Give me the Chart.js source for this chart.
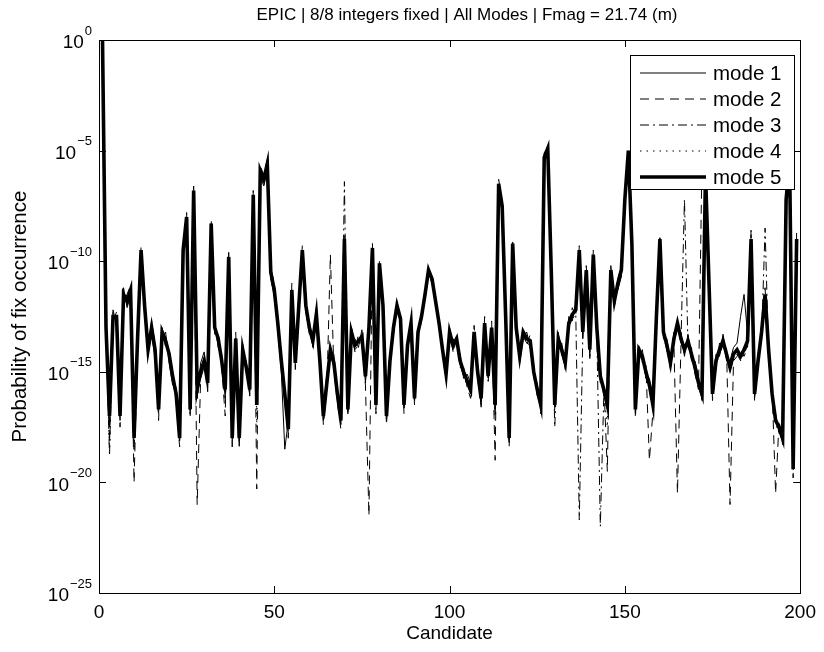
<!DOCTYPE html>
<html>
<head>
<meta charset="utf-8">
<title>EPIC fix occurrence</title>
<script src="https://cdn.jsdelivr.net/npm/chart.js@4.4.1/dist/chart.umd.min.js"></script>
<style>
    html, body { margin: 0; padding: 0; background: #fff; }
    #wrap { width: 824px; height: 652px; }
</style>
</head>
<body>
<div id="wrap"><canvas id="chart" width="824" height="652"></canvas></div>
<script>
(function() {
    'use strict';

    // log10 of the probability of fix occurrence, one value per candidate (1..199)
    var mode1Exp = [
        0, -13.4, -17.5, -12.2, -12.9, -16.6, -11.2, -12.1, -11.6, -17.4,
        -13.1, -9.8, -12.4, -13.6, -13.3, -14.4, -16.2, -13.5, -13.2, -14.6,
        -15.6, -15.7, -17.5, -9.8, -8.3, -16.3, -7.1, -16.2, -14.6, -14.1,
        -15.9, -8.6, -12.7, -13.9, -14.2, -16.2, -10.1, -17.5, -13.8, -17.6,
        -14.3, -14.5, -16.1, -7.3, -16.1, -6.2, -6.6, -5.9, -10.8, -11.6,
        -13.1, -15, -18.5, -17.2, -11.6, -14.2, -12.3, -9.8, -12.3, -12.7,
        -13.9, -12.1, -14.8, -16.6, -15.1, -14.3, -14.2, -16.3, -16.8, -9.3,
        -16.3, -13.5, -13.5, -13.9, -13.1, -15.5, -13.3, -9.7, -16.1, -10.4,
        -12.3, -16.6, -14.2, -13.3, -11.8, -12.9, -16.1, -14.1, -12.6, -15.8,
        -13.5, -12.3, -11.6, -10.5, -10.9, -11.9, -12.6, -14.2, -15.3, -13.5,
        -13.5, -13.8, -14.2, -15.3, -15.1, -15.5, -13.5, -14.7, -16.6, -13.1,
        -14.9, -13.3, -16.9, -6.8, -7.8, -12.2, -17.6, -9.5, -12.7, -14.6,
        -13.5, -13.2, -13.9, -14.7, -16.1, -16.2, -5.5, -5.2, -10.7, -16.1,
        -13.8, -13.7, -14.9, -12.5, -12.7, -11.9, -9.8, -13.5, -10.7, -14.3,
        -10, -13.3, -14.9, -16.1, -16.2, -10.7, -11.5, -11.3, -10.7, -7.5,
        -5.3, -9.5, -16.3, -14.3, -14, -15.3, -15.3, -16.1, -12.8, -9.3,
        -13.5, -13.5, -14.9, -13.2, -13.1, -13.2, -14.3, -13.3, -14.5, -14.5,
        -15.2, -16.3, -6.3, -11.3, -15.7, -14.2, -14.3, -13.3, -14.5, -14.5,
        -13.9, -13.7, -12.5, -11.5, -13.3, -9.3, -15.7, -14.2, -13.5, -11.8,
        -13.7, -16.3, -16.9, -17.8, -17.7, -7.5, -5.8, -19, -9.3
    ];
    var mode2Exp = [
        0, -12.8, -18.2, -12.7, -12.3, -17.5, -11.8, -11.5, -11.1, -20,
        -13.8, -9.3, -12.2, -14.3, -12.7, -13.8, -17.2, -13, -13.9, -14,
        -15, -16.4, -18.4, -9.3, -7.8, -17.1, -6.6, -21, -15.3, -14.8,
        -15.2, -8.1, -13.3, -13.2, -14.8, -17, -9.6, -18.4, -13.2, -18.5,
        -13.7, -15.1, -15.5, -6.8, -20.3, -5.7, -6.1, -5.4, -10.3, -11,
        -12.5, -14.8, -16.4, -18, -11, -14.9, -11.8, -9.3, -12.3, -13.3,
        -13.3, -12.7, -14.2, -17.4, -15.8, -9.7, -14.9, -16.4, -17.6, -8.8,
        -17, -12.9, -14.1, -13.3, -13.7, -15.6, -21.5, -9.2, -16.9, -9.9,
        -11.8, -17.4, -14.8, -12.7, -12.2, -12.3, -16.9, -13.5, -13, -16.5,
        -13, -12.6, -11.4, -10.3, -10.7, -11.7, -13, -13.8, -15.4, -13,
        -14.1, -13.3, -14.8, -14.8, -15.7, -16.2, -12.9, -15.3, -16.5, -12.5,
        -15.5, -12.7, -19, -6.3, -7.3, -12.8, -18.4, -9, -13.3, -14,
        -13, -13.8, -13.3, -15.3, -15.5, -16.9, -5.1, -4.8, -10.2, -16.8,
        -13.2, -14.3, -14.3, -13.1, -12.1, -12.5, -9.3, -13, -10.2, -14.4,
        -9.5, -13.3, -15.5, -15.5, -19.5, -10.2, -12.1, -10.8, -10.2, -7,
        -4.9, -9, -17.1, -13.7, -14.6, -14.7, -19, -16.8, -12.2, -8.8,
        -12.9, -14.1, -14.3, -13.8, -20.5, -13.8, -13.7, -13.9, -13.9, -15.1,
        -15.8, -5.5, -5.8, -10.8, -16.3, -14.8, -13.7, -13.9, -13.9, -21,
        -14.5, -14.3, -14, -14.3, -13.9, -8.8, -16.3, -14.8, -12.9, -11.2,
        -14.3, -15.7, -20.5, -17.2, -18.3, -7, -5.2, -19.8, -8.7
    ];
    var mode3Exp = [
        0, -13.2, -18.8, -12.3, -12.7, -17.2, -11.7, -12, -11.5, -18.6,
        -13.3, -9.7, -11.8, -14.2, -13.2, -14.2, -16.9, -13.4, -13.4, -14.4,
        -15.4, -16.2, -18.2, -9.7, -8.2, -16.9, -7, -16, -15.2, -14.7,
        -15.7, -8.5, -13.2, -13.7, -14.7, -16, -10, -18.2, -13.7, -18.2,
        -14.2, -15, -16, -7.2, -16.7, -6.1, -6.5, -5.8, -10.7, -11.5,
        -13, -14.7, -16.2, -17.8, -11.5, -14.8, -12.2, -9.7, -12.2, -13.2,
        -13.8, -12.6, -14.7, -17.2, -15.7, -14.2, -14.8, -16.2, -17.4, -6.4,
        -16.9, -13.4, -14, -13.8, -13.6, -15.4, -13.2, -9.6, -16.7, -10.3,
        -12.2, -17.2, -14.7, -13.2, -12.2, -12.8, -16.7, -14, -13, -16.4,
        -13.4, -12.7, -11.7, -10.6, -11, -12, -13, -14.2, -15.3, -13.4,
        -14, -13.7, -14.7, -15.2, -15.6, -16, -13.4, -15.2, -16.4, -13,
        -15.4, -13.2, -16.7, -6.7, -7.7, -12.7, -18.2, -9.4, -13.2, -14.5,
        -13.4, -13.7, -13.8, -15.2, -16, -16.7, -5.4, -5.1, -10.6, -17.5,
        -13.7, -14.2, -14.8, -13, -12.6, -12.4, -21.7, -13.4, -10.6, -14.2,
        -9.9, -13.2, -22, -16, -16.7, -10.6, -12, -11.2, -10.6, -7.4,
        -5.2, -9.4, -16.9, -14.2, -14.5, -15.2, -15.8, -16.7, -12.7, -9.2,
        -13.4, -14, -14.8, -13.7, -13, -13.7, -7.2, -13.8, -14.4, -15,
        -15.7, -16.2, -6.2, -11.2, -16.2, -14.7, -14.2, -13.8, -14.4, -15,
        -14.4, -14.2, -14.5, -14.2, -13.8, -8.6, -16.2, -14.7, -13.4, -8.5,
        -14.2, -16.2, -17.4, -17.7, -18.2, -7.4, -5, -18.8, -9.2
    ];
    var mode4Exp = [
        0, -13.1, -18.6, -12.4, -12.6, -17.1, -11.6, -11.9, -11.4, -18.4,
        -13.4, -9.6, -11.9, -14.1, -13.1, -14.1, -16.8, -13.3, -13.5, -14.3,
        -15.3, -16.1, -18.1, -9.6, -8.1, -16.8, -6.9, -16.2, -15.1, -14.6,
        -15.6, -8.4, -13.1, -13.6, -14.6, -16.3, -9.9, -18.1, -13.6, -18.1,
        -14.1, -14.9, -15.9, -7.1, -17.5, -6, -6.4, -5.7, -10.6, -11.4,
        -12.9, -14.6, -16.1, -17.7, -11.4, -14.7, -12.1, -9.6, -12.1, -13.1,
        -13.7, -12.5, -14.6, -17.1, -15.6, -14.1, -14.7, -16.1, -17.3, -9.1,
        -16.8, -13.3, -13.9, -13.7, -13.5, -15.3, -13.1, -9.5, -16.6, -10.2,
        -12.1, -17.1, -14.6, -13.1, -12.1, -12.7, -16.6, -13.9, -12.9, -16.3,
        -13.3, -12.6, -11.6, -10.5, -10.9, -11.9, -12.9, -14.1, -15.2, -13.3,
        -13.9, -13.6, -14.6, -15.1, -15.5, -15.9, -13.3, -15.1, -16.3, -12.9,
        -15.3, -13.1, -17.2, -6.6, -7.6, -12.6, -18.1, -9.3, -13.1, -14.4,
        -13.3, -13.6, -13.7, -15.1, -15.9, -16.6, -5.3, -5, -10.5, -16.6,
        -13.6, -14.1, -14.7, -12.9, -12.5, -12.3, -9.6, -13.3, -10.5, -14.1,
        -9.8, -13.1, -15.3, -15.9, -17.5, -10.5, -11.9, -11.1, -10.5, -7.3,
        -5.1, -9.3, -16.8, -14.1, -14.4, -15.1, -15.7, -16.6, -12.6, -9.1,
        -13.3, -13.9, -14.7, -13.6, -12.9, -13.6, -14.1, -13.7, -14.3, -14.9,
        -15.6, -16.1, -6.1, -11.1, -16.1, -14.6, -14.1, -13.7, -14.3, -14.9,
        -14.3, -14.1, -14.4, -14.1, -13.7, -9.1, -16.1, -14.6, -13.3, -11.6,
        -14.1, -16.1, -17.3, -17.6, -18.1, -7.3, -4.6, -19.5, -10.2
    ];
    var mode5Exp = [
        0, -13, -17, -12.5, -12.5, -17, -11.5, -11.8, -11.3, -18,
        -13.5, -9.5, -12, -14, -13, -14, -16.7, -13.2, -13.6, -14.2,
        -15.2, -16, -18, -9.5, -8, -16.7, -6.8, -15.8, -15, -14.5,
        -15.5, -8.3, -13, -13.5, -14.5, -15.8, -9.8, -18, -13.5, -18,
        -14, -14.8, -15.8, -7, -16.5, -5.9, -6.3, -5.6, -10.5, -11.3,
        -12.8, -14.5, -16, -17.6, -11.3, -14.6, -12, -9.5, -12, -13,
        -13.6, -12.4, -14.5, -17, -15.5, -14, -14.6, -16, -17.2, -9,
        -16.7, -13.2, -13.8, -13.6, -13.4, -15.2, -13, -9.4, -16.5, -10.1,
        -12, -17, -14.5, -13, -12, -12.6, -16.5, -13.8, -12.8, -16.2,
        -13.2, -12.5, -11.5, -10.4, -10.8, -11.8, -12.8, -14, -15.1, -13.2,
        -13.8, -13.5, -14.5, -15, -15.4, -15.8, -13.2, -15, -16.2, -12.8,
        -15.2, -13, -16.5, -6.5, -7.5, -12.5, -18, -9.2, -13, -14.3,
        -13.2, -13.5, -13.6, -15, -15.8, -16.5, -5.3, -4.9, -10.4, -16.5,
        -13.5, -14, -14.6, -12.8, -12.4, -12.2, -9.5, -13.2, -10.4, -14,
        -9.7, -13, -15.2, -15.8, -16.5, -10.4, -11.8, -11, -10.4, -7.2,
        -5, -9.2, -16.7, -14, -14.3, -15, -15.6, -16.5, -12.5, -9,
        -13.2, -13.8, -14.6, -13.5, -12.8, -13.5, -14, -13.6, -14.2, -14.8,
        -15.5, -16, -6, -11, -16, -14.5, -14, -13.6, -14.2, -14.8,
        -14.2, -14, -14.3, -14, -13.6, -9, -16, -14.5, -13.2, -11.5,
        -14, -16, -17.2, -17.5, -18, -7.2, -5.5, -19.4, -9
    ];

    var modeLabels = ['mode 1', 'mode 2', 'mode 3', 'mode 4', 'mode 5'];
    var xTickValues = [0, 50, 100, 150, 200];
    var yTickValues = [1e-25, 1e-20, 1e-15, 1e-10, 1e-5, 1];
    var yTickExpLabels = ['\u221225', '\u221220', '\u221215', '\u221210', '\u22125', '0'];
    var titleText = 'EPIC | 8/8 integers fixed | All Modes | Fmag = 21.74 (m)';

    var FONT = "'Liberation Sans', Arial, Helvetica, sans-serif";

    // line style per mode, matlab-ish
    var styles = [
        { width: 1, dash: [] },
        { width: 1, dash: [9, 6] },
        { width: 1, dash: [9, 4, 2, 4] },
        { width: 1, dash: [1.5, 5] },
        { width: 3.6, dash: [] }
    ];

    function toPoints(exps) {
        return exps.map(function(e, i) {
            return { x: i + 1, y: Math.pow(10, e) };
        });
    }

    var series = [mode1Exp, mode2Exp, mode3Exp, mode4Exp, mode5Exp];
    var datasets = series.map(function(exps, k) {
        return {
            label: modeLabels[k],
            data: toPoints(exps),
            borderColor: '#000',
            borderWidth: styles[k].width,
            borderDash: styles[k].dash,
            pointRadius: 0,
            tension: 0,
            fill: false,
            clip: 0,
            order: 4 - k // mode 5 on top
        };
    });

    // axes box, inward ticks, 10^n labels, title and legend like the matlab figure
    var matlabFrame = {
        id: 'matlabFrame',
        afterDraw: function(chart) {
            var ctx = chart.ctx;
            var a = chart.chartArea;
            var xs = chart.scales.x;
            var ys = chart.scales.y;
            var tick = 7;

            ctx.save();
            ctx.strokeStyle = '#000';
            ctx.lineWidth = 1;
            ctx.setLineDash([]);
            ctx.beginPath();
            xTickValues.forEach(function(v) {
                var px = Math.round(xs.getPixelForValue(v)) + 0.5;
                ctx.moveTo(px, a.bottom); ctx.lineTo(px, a.bottom - tick);
                ctx.moveTo(px, a.top); ctx.lineTo(px, a.top + tick);
            });
            yTickValues.forEach(function(v) {
                var py = Math.round(ys.getPixelForValue(v)) + 0.5;
                ctx.moveTo(a.left, py); ctx.lineTo(a.left + tick, py);
                ctx.moveTo(a.right, py); ctx.lineTo(a.right - tick, py);
            });
            ctx.stroke();
            ctx.strokeRect(Math.round(a.left) + 0.5, Math.round(a.top) + 0.5,
                Math.round(a.right - a.left), Math.round(a.bottom - a.top));

            // y tick labels with raised exponent
            ctx.fillStyle = '#000';
            ctx.textAlign = 'right';
            ctx.textBaseline = 'middle';
            yTickValues.forEach(function(v, i) {
                var py = ys.getPixelForValue(v);
                var right = a.left - 7;
                ctx.font = '13px ' + FONT;
                var ew = ctx.measureText(yTickExpLabels[i]).width;
                ctx.fillText(yTickExpLabels[i], right, py - 9);
                ctx.font = '19px ' + FONT;
                ctx.fillText('10', right - ew - 1, py + 3);
            });

            // title
            ctx.font = '17px ' + FONT;
            ctx.textAlign = 'center';
            ctx.fillText(titleText, 467, 15);

            // legend
            var lx = 630, ly = 55, lw = 164, lh = 134;
            ctx.fillStyle = '#fff';
            ctx.fillRect(lx, ly, lw, lh);
            ctx.strokeRect(lx + 0.5, ly + 0.5, lw, lh);
            ctx.font = '20.5px ' + FONT;
            ctx.textAlign = 'left';
            chart.data.datasets.forEach(function(ds, k) {
                var y = ly + 18 + k * 26;
                ctx.beginPath();
                ctx.lineWidth = ds.borderWidth;
                ctx.setLineDash(ds.borderDash);
                ctx.moveTo(lx + 10, y);
                ctx.lineTo(lx + 76, y);
                ctx.stroke();
                ctx.setLineDash([]);
                ctx.fillStyle = '#000';
                ctx.fillText(ds.label, lx + 83, y + 1);
            });
            ctx.restore();
        }
    };

    new Chart(document.getElementById('chart'), {
        type: 'line',
        data: { datasets: datasets },
        plugins: [matlabFrame],
        options: {
            responsive: false,
            animation: false,
            devicePixelRatio: 1,
            layout: { padding: { top: 40, right: 22, bottom: 0, left: 0 } },
            plugins: {
                legend: { display: false },
                title: { display: false },
                tooltip: { enabled: false }
            },
            scales: {
                x: {
                    type: 'linear',
                    min: 0,
                    max: 200,
                    afterFit: function(scale) { scale.height = 59; },
                    afterBuildTicks: function(scale) {
                        scale.ticks = xTickValues.map(function(v) { return { value: v }; });
                    },
                    grid: { display: false, drawTicks: false },
                    border: { display: false },
                    ticks: {
                        padding: 8,
                        color: '#000',
                        font: { family: FONT, size: 19 },
                        maxRotation: 0
                    },
                    title: {
                        display: true,
                        text: 'Candidate',
                        color: '#000',
                        font: { family: FONT, size: 19 },
                        padding: { top: 0, bottom: 7 }
                    }
                },
                y: {
                    type: 'logarithmic',
                    min: 1e-25,
                    max: 1,
                    afterFit: function(scale) { scale.width = 99; },
                    afterBuildTicks: function(scale) {
                        scale.ticks = yTickValues.map(function(v) { return { value: v }; });
                    },
                    grid: { display: false, drawTicks: false },
                    border: { display: false },
                    ticks: { display: false },
                    title: {
                        display: true,
                        text: 'Probability of fix occurrence',
                        color: '#000',
                        font: { family: FONT, size: 20.5 },
                        padding: { top: 8, bottom: 0 }
                    }
                }
            }
        }
    });
})();
</script>
</body>
</html>
